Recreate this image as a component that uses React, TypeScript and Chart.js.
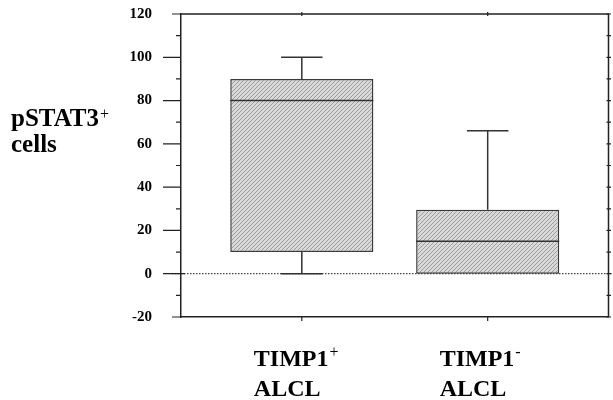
import { useEffect, useRef } from 'react';
import { Chart, registerables } from 'chart.js';
Chart.register(...registerables);

// ---- data ----
const categories = ['TIMP1', 'TIMP1'];
const categorySup = ['+', '-'];
const categoryLine2 = ['ALCL', 'ALCL'];
const xPositions = [1, 2];
const whiskerMin = [0, 0];
const q1 = [10, 0];
const median = [80, 15];
const q3 = [90, 29.5];
const whiskerMax = [100, 66];
const yTitle = 'pSTAT3';
const yTitleSup = '+';
const yTitleLine2 = 'cells';
const yMin = -20;
const yMax = 120;
const yStep = 10;
const yLabelStep = 20;

const FONT = "'Liberation Serif', 'Times New Roman', serif";
const INK = '#222222';

function makePattern(): CanvasPattern | string {
  const c = document.createElement('canvas');
  c.width = 4;
  c.height = 4;
  const g = c.getContext('2d');
  if (!g) return '#d0d0d0';
  g.fillStyle = '#d9d9d9';
  g.fillRect(0, 0, 4, 4);
  g.strokeStyle = '#9c9c9c';
  g.lineWidth = 1;
  g.beginPath();
  g.moveTo(0, 4);
  g.lineTo(4, 0);
  g.moveTo(-1, 1);
  g.lineTo(1, -1);
  g.moveTo(3, 5);
  g.lineTo(5, 3);
  g.stroke();
  const p = g.createPattern(c, 'repeat');
  return p || '#d0d0d0';
}

const boxPlugin = {
  id: 'boxExtras',
  beforeDatasetsDraw(chart: any) {
    const { ctx } = chart;
    const y = chart.scales.y;
    const y0 = y.getPixelForValue(0);
    ctx.save();
    ctx.strokeStyle = '#444';
    ctx.lineWidth = 1.2;
    ctx.setLineDash([1.5, 1.5]);
    ctx.beginPath();
    ctx.moveTo(chart.chartArea.left - 9, y0);
    ctx.lineTo(chart.width, y0);
    ctx.stroke();
    ctx.restore();
  },
  afterDatasetsDraw(chart: any) {
    const { ctx } = chart;
    const y = chart.scales.y;
    const meta = chart.getDatasetMeta(0);
    ctx.save();
    ctx.strokeStyle = '#333';
    ctx.lineWidth = 1.5;
    meta.data.forEach((bar: any, i: number) => {
      const cx = bar.x;
      const half = bar.width / 2;
      const cap = bar.width * 0.145;
      const pMed = y.getPixelForValue(median[i]);
      const pQ1 = y.getPixelForValue(q1[i]);
      const pQ3 = y.getPixelForValue(q3[i]);
      const pMin = y.getPixelForValue(whiskerMin[i]);
      const pMax = y.getPixelForValue(whiskerMax[i]);
      ctx.beginPath();
      ctx.moveTo(cx - half, pMed);
      ctx.lineTo(cx + half, pMed);
      ctx.moveTo(cx, pQ3);
      ctx.lineTo(cx, pMax);
      ctx.moveTo(cx - cap, pMax);
      ctx.lineTo(cx + cap, pMax);
      if (whiskerMin[i] < q1[i]) {
        ctx.moveTo(cx, pQ1);
        ctx.lineTo(cx, pMin);
        ctx.moveTo(cx - cap, pMin);
        ctx.lineTo(cx + cap, pMin);
      }
      ctx.stroke();
    });
    ctx.restore();
  },
  afterDraw(chart: any) {
    const { ctx, chartArea } = chart;
    const x = chart.scales.x;
    const y = chart.scales.y;
    ctx.save();
    ctx.strokeStyle = INK;
    ctx.lineWidth = 1.5;
    ctx.beginPath();
    ctx.moveTo(chartArea.left, chartArea.top);
    ctx.lineTo(chartArea.right, chartArea.top);
    ctx.lineTo(chartArea.right, chartArea.bottom);
    ctx.stroke();

    ctx.lineWidth = 1.2;
    ctx.beginPath();
    y.ticks.forEach((t: any) => {
      const py = y.getPixelForValue(t.value);
      let len = 5;
      if (t.value % yLabelStep === 0) len = 18;
      if (t.value === yMin || t.value === yMax) len = 9;
      ctx.moveTo(chartArea.left - len, py);
      ctx.lineTo(chartArea.left + (t.value === 0 ? 4 : 0), py);
      ctx.moveTo(chartArea.right - 2, py);
      ctx.lineTo(chartArea.right + 2.5, py);
    });
    xPositions.forEach((v) => {
      const px = x.getPixelForValue(v);
      ctx.moveTo(px, chartArea.top - 2);
      ctx.lineTo(px, chartArea.top + 2);
      ctx.moveTo(px, chartArea.bottom);
      ctx.lineTo(px, chartArea.bottom + 4);
    });
    ctx.stroke();

    ctx.fillStyle = '#000';
    ctx.textAlign = 'left';
    ctx.textBaseline = 'alphabetic';
    xPositions.forEach((v, i) => {
      const px = x.getPixelForValue(v);
      const left = px - 48;
      ctx.font = `bold 24px ${FONT}`;
      ctx.fillText(categories[i], left, 366);
      const w = ctx.measureText(categories[i]).width;
      ctx.fillText(categoryLine2[i], left, 396);
      ctx.font = `16px ${FONT}`;
      ctx.fillText(categorySup[i], left + w + 1, 357);
    });

    ctx.font = `bold 25px ${FONT}`;
    ctx.fillText(yTitle, 11, 126);
    const tw = ctx.measureText(yTitle).width;
    ctx.fillText(yTitleLine2, 11, 152);
    ctx.font = `16px ${FONT}`;
    ctx.fillText(yTitleSup, 11 + tw + 1, 119);
    ctx.restore();
  },
};

export default function App() {
  const ref = useRef<HTMLCanvasElement>(null);
  useEffect(() => {
    document.body.style.margin = '0';
    const canvas = ref.current;
    if (!canvas) return;
    const border = { display: true, color: INK, width: 1.5 };
    const chart = new Chart(canvas, {
      type: 'bar',
      data: {
        datasets: [
          {
            data: xPositions.map((xv, i) => ({ x: xv, y: [q1[i], q3[i]] })) as any,
            backgroundColor: makePattern() as any,
            borderColor: '#3a3a3a',
            borderWidth: 1.5,
            borderSkipped: false,
            barPercentage: 0.77,
            categoryPercentage: 1,
          },
        ],
      },
      options: {
        animation: false,
        responsive: false,
        maintainAspectRatio: false,
        events: [],
        layout: { padding: { top: 14, right: 4.5, left: 0, bottom: 0 } },
        plugins: { legend: { display: false }, tooltip: { enabled: false }, title: { display: false } },
        scales: {
          x: {
            type: 'linear',
            position: 'bottom',
            min: 0.35,
            max: 2.65,
            offset: false,
            grid: { display: false, offset: false, drawTicks: false },
            border,
            ticks: { display: false },
            afterBuildTicks: (s: any) => {
              s.ticks = xPositions.map((v) => ({ value: v }));
            },
            afterFit: (s: any) => {
              s.height = 83;
            },
          },
          y: {
            type: 'linear',
            position: 'left',
            min: yMin,
            max: yMax,
            grid: { display: false, drawTicks: true, tickLength: 29 },
            border,
            ticks: {
              stepSize: yStep,
              padding: 0,
              color: '#000',
              font: { family: FONT, size: 15, weight: 'bold' },
              callback: (v: any) => (Number(v) % yLabelStep === 0 ? String(v) : ''),
            },
            afterFit: (s: any) => {
              s.width = 181;
            },
          },
        },
      } as any,
      plugins: [boxPlugin],
    });
    return () => chart.destroy();
  }, []);
  return (
    <div style={{ position: 'absolute', left: 0, top: 0, width: 613, height: 400, background: '#fff' }}>
      <canvas ref={ref} width={613} height={400} />
    </div>
  );
}
